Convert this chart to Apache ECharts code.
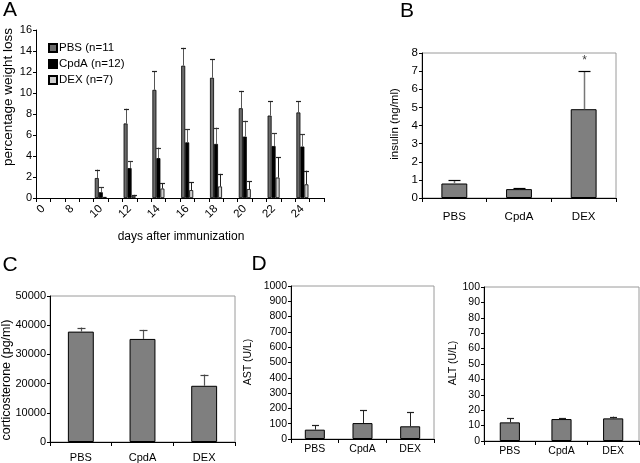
<!DOCTYPE html>
<html>
<head>
<meta charset="utf-8">
<script src="https://cdn.jsdelivr.net/npm/echarts@6/dist/echarts.min.js"></script>
<style>html,body{margin:0;padding:0;background:#fff}#c{width:640px;height:463px}</style>
</head>
<body>
<div id="c"></div>
<script>
// ---- Panel A: weight loss ----
const days = ['0','8','10','12','14','16','18','20','22','24'];
const pbsLoss   = [0, 0, 1.9, 7.1, 10.3, 12.6, 11.45, 8.55, 7.85, 8.15];
const pbsLossSd = [0, 0, 0.8, 1.4, 1.75, 1.7, 1.75, 1.65, 1.35, 1.05];
const cpdaLoss   = [0, 0, 0.55, 2.85, 3.8, 5.3, 5.15, 5.85, 4.95, 4.9];
const cpdaLossSd = [0, 0, 0.5, 0.65, 1.0, 1.25, 1.55, 1.5, 1.2, 1.15];
const dexLoss   = [0, 0, 0.1, 0.2, 0.9, 0.75, 1.1, 0.85, 1.95, 1.3];
const dexLossSd = [0, 0, 0, 0.1, 0.5, 0.75, 1.2, 0.75, 1.95, 1.3];
const legendNames = ['PBS (n=11', 'CpdA (n=12)', 'DEX (n=7)'];
const weightTicks = [0, 16, 2];

// ---- Panels B-D ----
const groups = ['PBS', 'CpdA', 'DEX'];
const insulin   = [0.8, 0.49, 4.9];
const insulinSd = [0.17, 0.06, 2.1];
const insulinSig = ['', '', '*'];
const cort   = [37800, 35300, 19250];
const cortSd = [1400, 3100, 3850];
const ast   = [61, 104, 83];
const astSd = [30, 83, 93];
const alt   = [12.1, 14.25, 14.7];
const altSd = [2.6, 0.45, 1.1];

const FONT = 'Liberation Sans, Arial, sans-serif';

// build 20-slot category axis (labelled slot + blank slot)
const catsA = [];
days.forEach(d => { catsA.push(d); catsA.push(''); });
function spread(arr) { const o = []; arr.forEach(v => { o.push(v === 0 ? null : v); o.push(null); }); return o; }
function errData(vals, sds, step) {
  return vals.map((v, i) => [i * step, v, sds[i]]);
}
function errRender(offset, capHalf, lineColor, capColor, lw, marks) {
  return function (params, api) {
    const x = api.value(0), v = api.value(1), sd = api.value(2);
    const children = [];
    const p0 = api.coord([x, v]);
    const p1 = api.coord([x, v + (sd || 0)]);
    const cx = Math.round(p0[0] + offset) + 0.5;
    if (sd) {
      children.push({ type: 'line', shape: { x1: cx, y1: p0[1], x2: cx, y2: p1[1] }, style: { stroke: lineColor, lineWidth: lw } });
      children.push({ type: 'line', shape: { x1: cx - capHalf, y1: Math.round(p1[1]) + 0.5, x2: cx + capHalf, y2: Math.round(p1[1]) + 0.5 }, style: { stroke: capColor, lineWidth: 1.2 } });
    }
    if (marks && marks[params.dataIndex]) {
      children.push({ type: 'text', style: { text: marks[params.dataIndex], x: cx, y: p1[1] - 10, align: 'center', verticalAlign: 'middle', font: '12px ' + FONT, fill: '#444' } });
    }
    return { type: 'group', children };
  };
}

const grids = [
  { left: 36, top: 30, width: 288, height: 168 },
  { left: 422, top: 53, width: 194, height: 145, show: true, borderColor: '#9a9a9a', borderWidth: 1 },
  { left: 50, top: 296, width: 185, height: 146, show: true, borderColor: '#9a9a9a', borderWidth: 1 },
  { left: 291, top: 286, width: 143, height: 153, show: true, borderColor: '#9a9a9a', borderWidth: 1 },
  { left: 484, top: 287, width: 155, height: 154, show: true, borderColor: '#9a9a9a', borderWidth: 1 }
];

function catAxis(idx, data, fs, margin, extra) {
  return Object.assign({
    type: 'category', gridIndex: idx, data: data, boundaryGap: true,
    axisLine: { lineStyle: { color: '#000', width: 1 } },
    axisTick: { show: true, interval: 0, length: 4, lineStyle: { color: '#000' } },
    axisLabel: { interval: 0, color: '#000', fontSize: fs, fontFamily: FONT, margin: margin },
    splitLine: { show: false }
  }, extra || {});
}
function valAxis(idx, min, max, interval, fs) {
  return {
    type: 'value', gridIndex: idx, min: min, max: max, interval: interval,
    axisLine: { show: true, lineStyle: { color: '#000', width: 1 } },
    axisTick: { show: true, length: 3, lineStyle: { color: '#000' } },
    axisLabel: { color: '#000', fontSize: fs, fontFamily: FONT, margin: 4, formatter: v => String(v) },
    splitLine: { show: false }
  };
}

const barGray = { color: '#7f7f7f', borderColor: '#000', borderWidth: 1 };

const option = {
  animation: false,
  backgroundColor: '#fff',
  grid: grids,
  legend: {
    orient: 'vertical', left: 43, top: 37, itemWidth: 8, itemHeight: 8, itemGap: 4,
    data: legendNames, icon: 'rect',
    textStyle: { fontSize: 11.5, fontFamily: FONT, color: '#000', padding: [0, 0, 0, -3], lineHeight: 12 }
  },
  xAxis: [
    catAxis(0, catsA, 11, 6, { axisLabel: { interval: 0, rotate: 45, color: '#000', fontSize: 11.5, fontFamily: FONT, margin: 9 } }),
    catAxis(1, groups, 11.5, 13),
    catAxis(2, groups, 11, 10),
    catAxis(3, groups, 10.5, 5),
    catAxis(4, groups, 10.5, 5)
  ],
  yAxis: [
    valAxis(0, weightTicks[0], weightTicks[1], weightTicks[2], 11),
    valAxis(1, 0, 8, 1, 11.5),
    valAxis(2, 0, 50000, 10000, 11),
    valAxis(3, 0, 1000, 100, 10.5),
    valAxis(4, 0, 100, 10, 10.5)
  ],
  series: [
    { name: legendNames[0], type: 'bar', xAxisIndex: 0, yAxisIndex: 0, data: spread(pbsLoss), barWidth: 4, barGap: '0%',
      itemStyle: { color: '#6b6b6b', borderColor: '#000', borderWidth: 0.8 } },
    { name: legendNames[1], type: 'bar', xAxisIndex: 0, yAxisIndex: 0, data: spread(cpdaLoss), barWidth: 4, barGap: '0%',
      itemStyle: { color: '#000', borderColor: '#000', borderWidth: 0.8 } },
    { name: legendNames[2], type: 'bar', xAxisIndex: 0, yAxisIndex: 0, data: spread(dexLoss), barWidth: 4, barGap: '0%',
      itemStyle: { color: '#cfcfcf', borderColor: '#000', borderWidth: 0.8 } },
    { type: 'custom', xAxisIndex: 0, yAxisIndex: 0, z: 5, encode: { x: 0, y: 1 }, data: errData(pbsLoss, pbsLossSd, 2),
      renderItem: errRender(-4, 2.5, '#555', '#222', 1) },
    { type: 'custom', xAxisIndex: 0, yAxisIndex: 0, z: 5, encode: { x: 0, y: 1 }, data: errData(cpdaLoss, cpdaLossSd, 2),
      renderItem: errRender(0, 2.5, '#666', '#333', 1) },
    { type: 'custom', xAxisIndex: 0, yAxisIndex: 0, z: 5, encode: { x: 0, y: 1 }, data: errData(dexLoss, dexLossSd, 2),
      renderItem: errRender(4, 2.5, '#222', '#222', 1) },

    { type: 'bar', xAxisIndex: 1, yAxisIndex: 1, data: insulin, barWidth: '40%', itemStyle: barGray },
    { type: 'custom', xAxisIndex: 1, yAxisIndex: 1, z: 5, encode: { x: 0, y: 1 }, data: errData(insulin, insulinSd, 1),
      renderItem: errRender(0, 6, '#777', '#000', 1.5, insulinSig) },

    { type: 'bar', xAxisIndex: 2, yAxisIndex: 2, data: cort, barWidth: '42%', itemStyle: barGray },
    { type: 'custom', xAxisIndex: 2, yAxisIndex: 2, z: 5, encode: { x: 0, y: 1 }, data: errData(cort, cortSd, 1),
      renderItem: errRender(0, 4, '#555', '#444', 1.2) },

    { type: 'bar', xAxisIndex: 3, yAxisIndex: 3, data: ast, barWidth: '42%', itemStyle: barGray },
    { type: 'custom', xAxisIndex: 3, yAxisIndex: 3, z: 5, encode: { x: 0, y: 1 }, data: errData(ast, astSd, 1),
      renderItem: errRender(0, 3.5, '#222', '#222', 1) },

    { type: 'bar', xAxisIndex: 4, yAxisIndex: 4, data: alt, barWidth: '39%', itemStyle: barGray },
    { type: 'custom', xAxisIndex: 4, yAxisIndex: 4, z: 5, encode: { x: 0, y: 1 }, data: errData(alt, altSd, 1),
      renderItem: errRender(0, 3.5, '#222', '#222', 1) }
  ],
  graphic: [
    { type: 'text', x: 10, y: 10, style: { text: 'A', font: '21px ' + FONT, fill: '#000', align: 'center', verticalAlign: 'middle' } },
    { type: 'text', x: 407, y: 11, style: { text: 'B', font: '21px ' + FONT, fill: '#000', align: 'center', verticalAlign: 'middle' } },
    { type: 'text', x: 10, y: 265, style: { text: 'C', font: '21px ' + FONT, fill: '#000', align: 'center', verticalAlign: 'middle' } },
    { type: 'text', x: 259, y: 264, style: { text: 'D', font: '21px ' + FONT, fill: '#000', align: 'center', verticalAlign: 'middle' } },
    { type: 'text', x: 8, y: 97, rotation: Math.PI / 2, style: { text: 'percentage weight loss', font: '13.5px ' + FONT, fill: '#000', align: 'center', verticalAlign: 'middle' } },
    { type: 'text', x: 181, y: 237, style: { text: 'days after immunization', font: '12px ' + FONT, fill: '#000', align: 'center', verticalAlign: 'middle' } },
    { type: 'text', x: 395, y: 124, rotation: Math.PI / 2, style: { text: 'insulin (ng/ml)', font: '11.5px ' + FONT, fill: '#000', align: 'center', verticalAlign: 'middle' } },
    { type: 'text', x: 7, y: 380, rotation: Math.PI / 2, style: { text: 'corticosterone (pg/ml)', font: '12.5px ' + FONT, fill: '#000', align: 'center', verticalAlign: 'middle' } },
    { type: 'text', x: 248, y: 362, rotation: Math.PI / 2, style: { text: 'AST (U/L)', font: '10.5px ' + FONT, fill: '#000', align: 'center', verticalAlign: 'middle' } },
    { type: 'text', x: 453, y: 363, rotation: Math.PI / 2, style: { text: 'ALT (U/L)', font: '10.5px ' + FONT, fill: '#000', align: 'center', verticalAlign: 'middle' } }
  ]
};

const chart = echarts.init(document.getElementById('c'), null, { renderer: 'canvas' });
chart.setOption(option);
</script>
</body>
</html>
